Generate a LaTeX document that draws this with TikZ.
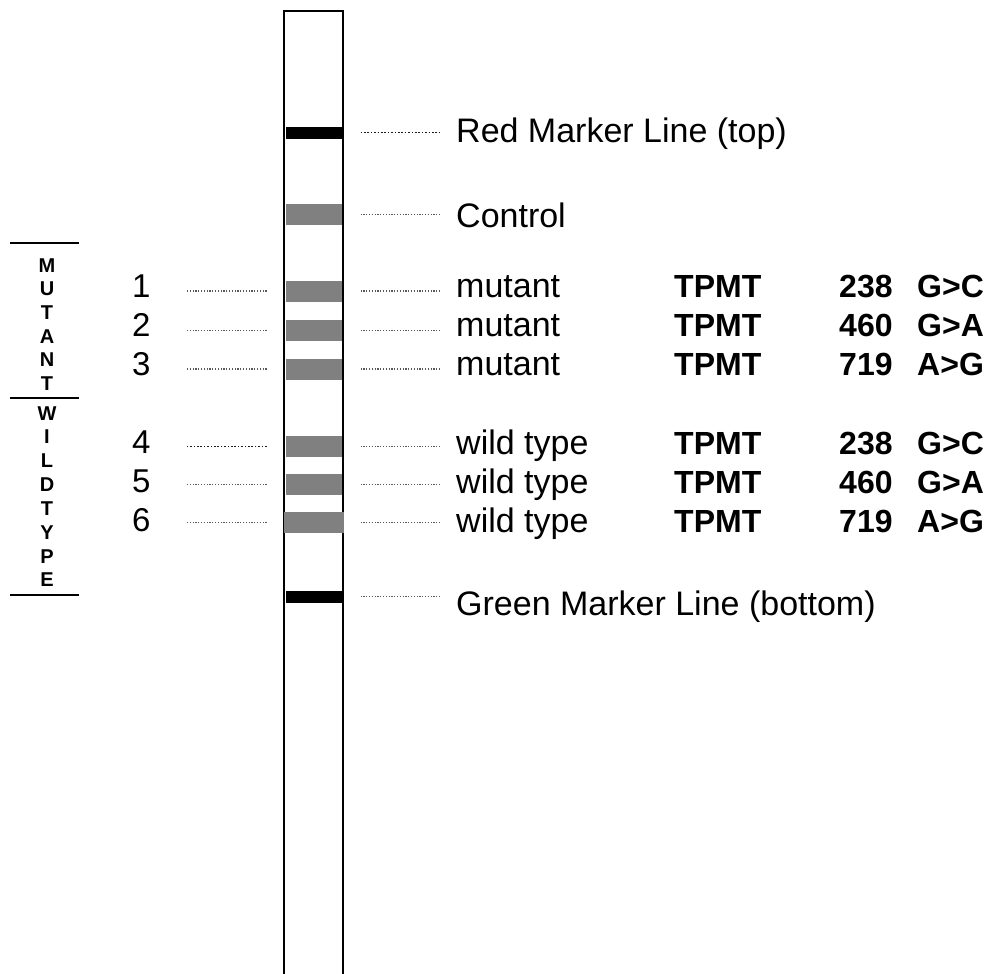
\documentclass[tikz,border=0pt]{standalone}
\usepackage{fontspec}
\setmainfont{Liberation Sans}
\begin{document}
\begin{tikzpicture}[x=1pt,y=-1pt,
  strip/.style={line width=2pt,draw=black},
  band/.style={draw=none,fill=black!50,minimum width=56pt,minimum height=21pt,inner sep=0pt,outer sep=0pt},
  marker/.style={draw=none,fill=black,minimum width=56pt,minimum height=12pt,inner sep=0pt,outer sep=0pt},
  leader/.style={line width=1.3pt,draw=black!65,dash pattern=on 1.2pt off 1.6pt},
  darkleader/.style={line width=1.3pt,draw=black!90,dash pattern=on 1.6pt off 1.8pt},
  lbl/.style={anchor=base west,inner sep=0pt,font=\fontsize{34}{40}\selectfont},
  blbl/.style={anchor=base west,inner sep=0pt,font=\fontsize{32}{38}\selectfont\bfseries},
  num/.style={anchor=base west,inner sep=0pt,font=\fontsize{33}{38}\selectfont},
  letter/.style={anchor=base,inner sep=0pt,font=\fontsize{20}{24}\selectfont\bfseries},
  rule/.style={line width=1.6pt,draw=black}]
\useasboundingbox (0,0) rectangle (991,974);

% test strip, open at the lower end
\draw[strip] (284,990) -- (284,11) -- (343,11) -- (343,990);

% marker lines and reaction bands
\node[marker] (red) at (313.5,132.5) {};
\node[band]   (ctl) at (313.5,214.5) {};
\node[band]   (b1)  at (313.5,291) {};
\node[band]   (b2)  at (313.5,330.5) {};
\node[band]   (b3)  at (313.5,369) {};
\node[band]   (b4)  at (313.5,446.5) {};
\node[band]   (b5)  at (313.5,484.5) {};
\node[band,minimum width=60pt] (b6) at (313.5,522.5) {};
\node[marker] (green) at (313.5,596.5) {};

% right-hand labels
\node[lbl] (tred) at (456,142) {Red Marker Line (top)};
\node[lbl] (tctl) at (456,227) {Control};
\node[lbl] (t1) at (456,297) {mutant};
\node[lbl] (t2) at (456,336) {mutant};
\node[lbl] (t3) at (456,375) {mutant};
\node[lbl] (t4) at (456,454) {wild type};
\node[lbl] (t5) at (456,493) {wild type};
\node[lbl] (t6) at (456,532) {wild type};
\node[lbl] (tgreen) at (456,615) {Green Marker Line (bottom)};

% gene and variant columns
\foreach \y/\pos/\chg [count=\i] in {297/238/G>C,336/460/G>A,375/719/A>G,454/238/G>C,493/460/G>A,532/719/A>G}{
  \node[blbl] (gene\i) at (674,\y) {TPMT};
  \node[blbl] (pos\i) at (839,\y) {\pos};
  \node[blbl] (chg\i) at (917,\y) {\chg};
}

% band numbers on the left
\foreach \y [count=\i] in {297,336,375,453,492,531}
  \node[num] (n\i) at (132,\y) {\i};

% dotted leaders to the right
\draw[darkleader] ([xshift=19pt]red.east) -- ++(79,0);
\foreach \b in {ctl,b1,b2,b3,b4,b5,green}
  \draw[leader] ([xshift=19pt]\b.east) -- ++(79,0);
\draw[leader] ([xshift=17pt]b6.east) -- ++(79,0);

% dotted leaders to the left
\foreach \b in {b1,b2,b3,b5}
  \draw[leader] ([xshift=-19pt]b1.west |- \b.west) -- ++(-80,0);
\draw[darkleader] ([xshift=-19pt]b1.west |- b4.west) -- ++(-80,0);
\draw[leader] ([xshift=-19pt]b1.west |- b6.west) -- ++(-80,0);

% group bracket: MUTANT / WILDTYPE
\coordinate (gtop) at (10,243);
\coordinate (gmid) at (10,398);
\coordinate (gbot) at (10,595);
\draw[rule] (gtop) -- ++(69,0);
\draw[rule] (gmid) -- ++(69,0);
\draw[rule] (gbot) -- ++(69,0);
\foreach \c [count=\i from 0] in {M,U,T,A,N,T}
  \node[letter] (m\i) at (47,272+23.7*\i) {\c};
\foreach \c [count=\i from 0] in {W,I,L,D,T,Y,P,E}
  \node[letter] (w\i) at (47,420+23.85*\i) {\c};
\end{tikzpicture}
\end{document}
